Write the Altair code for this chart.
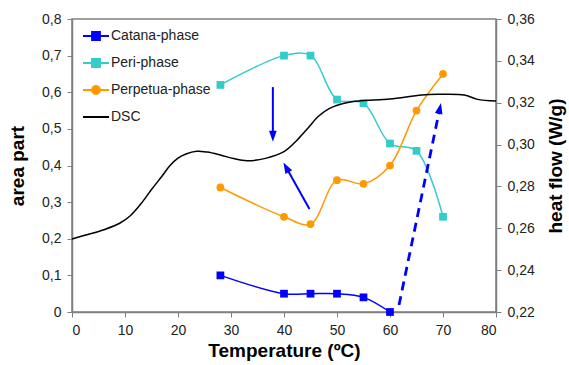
import altair as alt
import pandas as pd

# ---- data ----
temps = [28, 40, 45, 50, 55, 60, 65, 70]
catana_t = [28, 40, 45, 50, 55, 60]
catana = [0.10, 0.05, 0.05, 0.05, 0.04, 0.0]
peri = [0.62, 0.70, 0.70, 0.58, 0.57, 0.46, 0.44, 0.26]
perpetua = [0.34, 0.26, 0.24, 0.36, 0.35, 0.40, 0.55, 0.65]

dsc_t = [0, 3, 6, 9, 11, 13, 15, 17, 18.5, 20, 21.5, 23.5, 25.5, 28, 30.5, 33,
         36.5, 40, 42.5, 44.5, 46.5, 48.5, 51, 54, 60, 66, 69, 74, 76.5, 80]
dsc = [0.2549, 0.2570, 0.2593, 0.2624, 0.2660, 0.2717, 0.2785, 0.2850, 0.2900,
       0.2935, 0.2955, 0.2968, 0.2964, 0.2950, 0.2933, 0.2923, 0.2934, 0.2966,
       0.3022, 0.3078, 0.3135, 0.3172, 0.3195, 0.3208, 0.3218, 0.3237, 0.3240,
       0.3237, 0.3216, 0.3208]

# arrows (area-part units): start point, arrow-head centre, head direction
arrow_x1 = [37.9, 44.8, 61.7]
arrow_y1 = [0.614, 0.281, 0.019]
arrow_x2 = [37.9, 40.4, 69.4]
arrow_y2 = [0.480, 0.395, 0.556]
arrow_angle = [180, 331, 12]
arrow_kind = ["solid", "solid", "dashed"]

series = ["Catana-phase", "Peri-phase", "Perpetua-phase", "DSC"]
colors = ["#0000FF", "#33CCCC", "#FF9900", "#000000"]
legend_paths = [
    "M-1,0H1M-0.3,-0.3H0.3V0.3H-0.3Z",
    "M-1,0H1M-0.3,-0.3H0.3V0.3H-0.3Z",
    "M-1,0H1M-0.3,0A0.3,0.3 0 1,0 0.3,0A0.3,0.3 0 1,0 -0.3,0Z",
    "M-1,0H1",
]
head_path = "M0,-1L0.7,1L-0.7,1Z"

FONT = "Liberation Sans"

x_scale = alt.Scale(domain=[0, 80], nice=False)
x_axis = alt.Axis(values=list(range(0, 81, 10)), title="Temperature (ºC)",
                  labelFontSize=14, titleFontSize=19, titleFontWeight="bold",
                  grid=False, tickSize=5, titlePadding=4, labelPadding=6,
                  labelOverlap=False)
x_enc = alt.X("t:Q", scale=x_scale, axis=x_axis)
y_scale = alt.Scale(domain=[0, 0.8], nice=False)
left_axis = alt.Axis(values=[0, 0.1, 0.2, 0.3, 0.4, 0.5, 0.6, 0.7, 0.8],
                     labelExpr="datum.value == 0 ? '0' : replace(format(datum.value, '.1f'), '.', ',')",
                     title="area part", orient="left", labelFontSize=14, titleFontSize=19,
                     titleFontWeight="bold", grid=False, tickSize=5, titlePadding=14,
                     labelPadding=6, labelOverlap=False)
y_enc = alt.Y("v:Q", scale=y_scale, axis=left_axis)

def phase_df(ts, vs):
    return pd.DataFrame({"t": ts, "v": vs})

def phase_layer(ts, vs, color, shape, size):
    base = alt.Chart(phase_df(ts, vs)).encode(x=x_enc, y=y_enc)
    line = base.mark_line(color=color, strokeWidth=1.5, interpolate="catmull-rom")
    pts = base.mark_point(color=color, shape=shape, filled=True, opacity=1, size=size)
    return line + pts

catana_l = phase_layer(catana_t, catana, colors[0], "square", 60)
peri_l = phase_layer(temps, peri, colors[1], "square", 60)
perp_l = phase_layer(temps, perpetua, colors[2], "circle", 60)

arrows_df = pd.DataFrame({"t": arrow_x1, "v": arrow_y1, "t2": arrow_x2, "v2": arrow_y2,
                          "ang": arrow_angle, "kind": arrow_kind})
solid = alt.Chart(arrows_df).transform_filter("datum.kind == 'solid'").mark_rule(
    color="#0000FF", strokeWidth=2).encode(x=x_enc, y=y_enc, x2="t2:Q", y2="v2:Q")
dashed = alt.Chart(arrows_df).transform_filter("datum.kind == 'dashed'").mark_rule(
    color="#0000FF", strokeWidth=2.8, strokeDash=[9, 6]).encode(x=x_enc, y=y_enc, x2="t2:Q", y2="v2:Q")
heads = alt.Chart(arrows_df).mark_point(
    shape=head_path, filled=True, opacity=1, color="#0000FF", size=121).encode(
    x=alt.X("t2:Q", scale=x_scale, axis=x_axis),
    y=alt.Y("v2:Q", scale=y_scale, axis=left_axis),
    angle=alt.Angle("ang:Q", scale=None))

legend_df = pd.DataFrame({"series": series})
legend_layer = alt.Chart(legend_df).transform_filter("false").mark_point(
    filled=True, opacity=1).encode(
    color=alt.Color("series:N", scale=alt.Scale(domain=series, range=colors),
                    legend=alt.Legend(title=None, orient="none", legendX=10, legendY=3,
                                      symbolSize=676, symbolStrokeWidth=2,
                                      labelFontSize=14, labelFont=FONT, rowPadding=5,
                                      labelOffset=1, padding=0)),
    stroke=alt.Stroke("series:N", scale=alt.Scale(domain=series, range=colors), legend=None),
    shape=alt.Shape("series:N", scale=alt.Scale(domain=series, range=legend_paths)),
)

left = alt.layer(catana_l, peri_l, perp_l, solid, dashed, heads, legend_layer)

dsc_df = pd.DataFrame({"t": dsc_t, "h": dsc})
right = alt.Chart(dsc_df).mark_line(color="black", strokeWidth=1.5, interpolate="catmull-rom").encode(
    x=x_enc,
    y=alt.Y("h:Q", scale=alt.Scale(domain=[0.22, 0.36], nice=False),
            axis=alt.Axis(values=[0.22, 0.24, 0.26, 0.28, 0.30, 0.32, 0.34, 0.36],
                          labelExpr="replace(format(datum.value, '.2f'), '.', ',')",
                          title="heat flow (W/g)", orient="right", titleAngle=270,
                          titleBaseline="top",
                          labelFontSize=14, titleFontSize=19, titleFontWeight="bold",
                          grid=False, tickSize=5, titlePadding=12, labelPadding=6,
                          labelOverlap=False)))

chart = alt.layer(left, right).resolve_scale(y="independent").properties(
    width=424, height=293,
    autosize=alt.AutoSizeParams(type="none"),
    padding={"left": 72, "top": 19, "right": 73, "bottom": 53},
).configure_view(stroke="#808080", strokeWidth=1.5).configure_axis(
    domainColor="#808080", tickColor="#808080", domainWidth=1.5, labelColor="#222222",
    titleColor="black", labelFont=FONT, titleFont=FONT
).configure_legend(labelColor="#222222")

chart.save("out.html", embed_options={"renderer": "svg", "actions": False})
